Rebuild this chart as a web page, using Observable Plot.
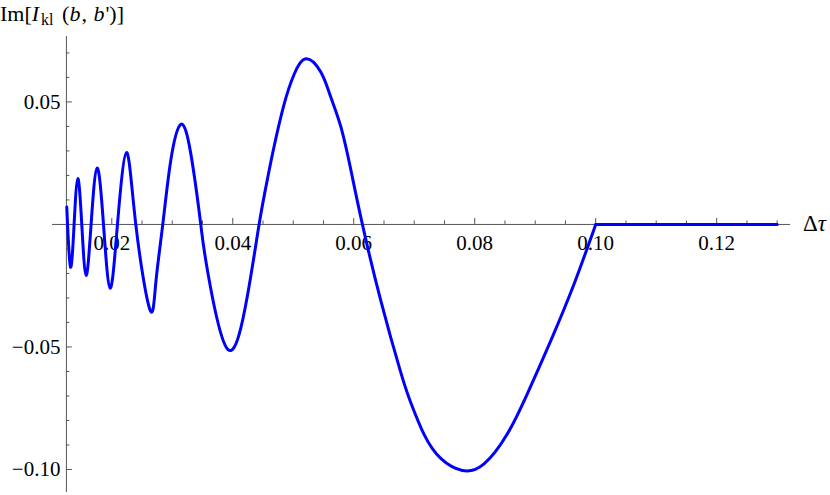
<!DOCTYPE html>
<html><head><meta charset="utf-8">
<script src="https://cdn.jsdelivr.net/npm/d3@7"></script>
<script src="https://cdn.jsdelivr.net/npm/@observablehq/plot@0.6"></script>
<style>body{margin:0;background:#fff} #chart{width:830px;height:495px}</style>
</head><body><div id="chart"></div>
<script>
// Δτ values and Im[I_kl(b,b')] values
const tau = [0.01256, 0.01317, 0.01377, 0.01438, 0.01504, 0.01575, 0.01658, 0.01757, 0.01863, 0.01972,
  0.02094, 0.02243, 0.02397, 0.02628, 0.02727, 0.02843, 0.02975, 0.03140, 0.03306, 0.03471,
  0.03582, 0.03922, 0.04243, 0.04435, 0.04573, 0.04683, 0.04848, 0.05013, 0.05207, 0.05455,
  0.05620, 0.05785, 0.05950, 0.06143, 0.06446, 0.06777, 0.06942, 0.07162, 0.07438, 0.07796,
  0.08154, 0.08540, 0.08871, 0.09256, 0.09642, 0.10000];
const imI = [0.0071, -0.0174, 0.0, 0.0187, 0.0, -0.0208, 0.0, 0.0230, 0.0, -0.0260,
  0.0, 0.0293, 0.0, -0.0346, -0.0240, 0.0, 0.0261, 0.0408, 0.0289, 0.0,
  -0.0188, -0.0511, -0.0290, 0.0, 0.0185, 0.0318, 0.0490, 0.0612, 0.0676, 0.0622,
  0.0520, 0.0400, 0.0225, 0.0, -0.0310, -0.0604, -0.0727, -0.0857, -0.0955, -0.1004,
  -0.0977, -0.0854, -0.0690, -0.0475, -0.0243, 0.0];
const tailTau = [0.10, 0.13];
const tailIm = [0, 0];

const xMajor = [0.02, 0.04, 0.06, 0.08, 0.10, 0.12];
const xMajorLabels = ["0.02", "0.04", "0.06", "0.08", "0.10", "0.12"];
const xMinor = [0.015, 0.025, 0.03, 0.035, 0.045, 0.05, 0.055, 0.065, 0.07, 0.075, 0.085, 0.09, 0.095, 0.105, 0.11, 0.115, 0.125, 0.13];
const yMajor = [0.05, -0.05, -0.10];
const yMajorLabels = ["0.05", "\u22120.05", "\u22120.10"];
const yMinor = [0.07, 0.06, 0.04, 0.03, 0.02, 0.01, -0.01, -0.02, -0.03, -0.04, -0.06, -0.07, -0.08, -0.09];

const yAxisAt = 0.0125;
const curveData = tau.map((t, i) => ({t, v: imI[i]}));
const tailData = tailTau.map((t, i) => ({t, v: tailIm[i]}));

const W = 830, H = 495;
const xDom = [0.0102, 0.1322], yDom = [-0.1094, 0.0767];
const mL = 52, mR = 40, mT = 36, mB = 3;
const pxPerX = (W - mL - mR) / (xDom[1] - xDom[0]);
const pxPerY = (H - mT - mB) / (yDom[1] - yDom[0]);
const axisColor = "#555";
const font = "'Liberation Serif', 'Times New Roman', 'DejaVu Serif', serif";

const plot = Plot.plot({
  width: W, height: H,
  marginLeft: mL, marginRight: mR, marginTop: mT, marginBottom: mB,
  x: {domain: xDom, axis: null},
  y: {domain: yDom, axis: null},
  style: {fontFamily: font, background: "white"},
  marks: [
    Plot.ruleY([0], {stroke: axisColor, strokeWidth: 1}),
    Plot.ruleX([yAxisAt], {stroke: axisColor, strokeWidth: 1}),
    Plot.ruleX(xMajor, {x: d => d, y1: 0, y2: 6 / pxPerY, stroke: axisColor}),
    Plot.ruleX(xMinor, {x: d => d, y1: 0, y2: 3.5 / pxPerY, stroke: axisColor}),
    Plot.ruleY(yMajor, {y: d => d, x1: yAxisAt, x2: yAxisAt + 6 / pxPerX, stroke: axisColor}),
    Plot.ruleY(yMinor, {y: d => d, x1: yAxisAt, x2: yAxisAt + 3.5 / pxPerX, stroke: axisColor}),
    Plot.text(xMajor, {x: d => d, y: 0, dy: 19, text: (d, i) => xMajorLabels[i], fontSize: 21, fill: "black", fontFamily: font}),
    Plot.text(yMajor, {x: yAxisAt, y: d => d, dx: -6, textAnchor: "end", text: (d, i) => yMajorLabels[i], fontSize: 21, fill: "black", fontFamily: font}),
    Plot.line(curveData, {x: "t", y: "v", curve: "natural", stroke: "#0000ff", strokeWidth: 3}),
    Plot.line(tailData, {x: "t", y: "v", stroke: "#0000ff", strokeWidth: 3})
  ]
});

const svg = d3.select(plot);
const xs = plot.scale("x"), ys = plot.scale("y");
// y-axis title
const yt = svg.append("text").attr("x", 0).attr("y", 21).attr("text-anchor", "start")
  .style("font-size", "22px").style("font-family", font).attr("fill", "black");
yt.append("tspan").text("Im[");
yt.append("tspan").style("font-style", "italic").text("I");
yt.append("tspan").style("font-size", "16px").attr("dx", 2).attr("dy", 4).text("kl");
yt.append("tspan").attr("dx", 3).attr("dy", -4).text(" (");
yt.append("tspan").style("font-style", "italic").text("b");
yt.append("tspan").attr("dx", 1).text(", ");
yt.append("tspan").attr("dx", 1).style("font-style", "italic").text("b");
yt.append("tspan").attr("dx", 1).text("')]");
// x-axis title
const xt = svg.append("text").attr("x", xs.apply(xDom[1]) + 13).attr("y", ys.apply(0)).attr("dy", "0.32em")
  .attr("text-anchor", "start").style("font-size", "23px").style("font-family", font).attr("fill", "black");
xt.append("tspan").text("\u0394");
xt.append("tspan").style("font-style", "italic").text("\u03c4");

document.getElementById("chart").appendChild(plot);
</script></body></html>
